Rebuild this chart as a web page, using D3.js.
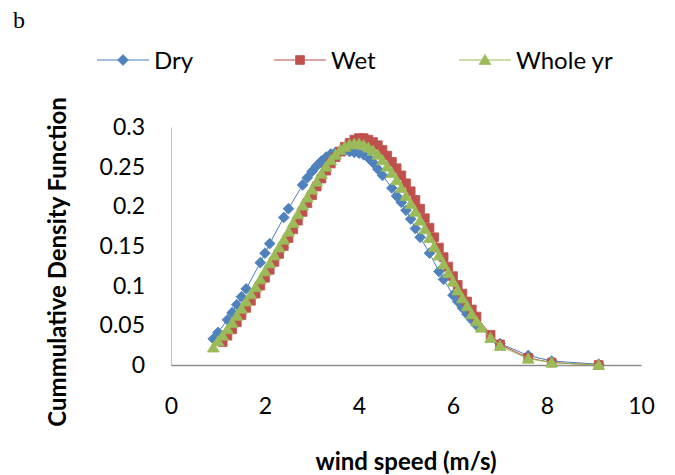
<!DOCTYPE html>
<html>
<head>
<meta charset="utf-8">
<script src="https://cdn.jsdelivr.net/npm/d3@7/dist/d3.min.js"></script>
<style>
  html, body { margin: 0; padding: 0; background: #fff; }
  svg { display: block; }
  text { font-family: Lato, "Open Sans", sans-serif; fill: #000; }
</style>
</head>
<body>
<svg id="chart" width="675" height="475"></svg>
<script>
// Wind speed (m/s) and density values per season
const dryX = [0.9,1.0,1.2,1.3,1.4,1.5,1.6,1.9,2.0,2.1,2.4,2.5,2.8,2.9,3.0,3.1,3.2,3.3,3.4,3.5,3.6,3.7,3.8,3.9,4.0,4.1,4.2,4.3,4.4,4.5,4.7,4.8,4.9,5.0,5.1,5.2,5.3,5.5,5.7,5.8,6.0,6.1,6.2,6.3,6.4,6.5,7.0,7.6,8.1,9.1];
const dryY = [0.033,0.041,0.057,0.066,0.076,0.086,0.096,0.129,0.141,0.153,0.186,0.197,0.227,0.236,0.244,0.251,0.257,0.262,0.266,0.268,0.269,0.270,0.269,0.268,0.267,0.265,0.261,0.255,0.247,0.239,0.223,0.213,0.205,0.195,0.184,0.172,0.161,0.141,0.118,0.108,0.088,0.080,0.072,0.064,0.057,0.050,0.027,0.012,0.005,0.001];

const wetX = [1.1,1.2,1.3,1.4,1.5,1.6,1.7,1.8,1.9,2.0,2.1,2.2,2.3,2.4,2.5,2.6,2.7,2.8,2.9,3.0,3.1,3.2,3.3,3.4,3.5,3.6,3.7,3.8,3.9,4.0,4.1,4.2,4.3,4.4,4.5,4.6,4.7,4.8,4.9,5.0,5.1,5.2,5.3,5.4,5.5,5.6,5.7,5.8,5.9,6.0,6.1,6.2,6.3,6.4,6.5,6.8,7.0,7.6,8.1,9.1];
const wetY = [0.029,0.037,0.045,0.054,0.063,0.072,0.081,0.090,0.100,0.110,0.120,0.130,0.140,0.150,0.160,0.171,0.182,0.193,0.204,0.214,0.225,0.235,0.245,0.254,0.262,0.269,0.275,0.280,0.284,0.286,0.286,0.284,0.281,0.277,0.271,0.264,0.256,0.248,0.239,0.229,0.219,0.208,0.197,0.185,0.173,0.161,0.148,0.136,0.124,0.112,0.101,0.090,0.080,0.070,0.061,0.038,0.026,0.009,0.003,0.000];

const wholeX = [0.9,1.0,1.1,1.2,1.3,1.4,1.5,1.6,1.7,1.8,1.9,2.0,2.1,2.2,2.3,2.4,2.5,2.6,2.7,2.8,2.9,3.0,3.1,3.2,3.3,3.4,3.5,3.6,3.7,3.8,3.9,4.0,4.1,4.2,4.3,4.4,4.5,4.6,4.7,4.8,4.9,5.0,5.1,5.2,5.3,5.4,5.5,5.6,5.7,5.8,5.9,6.0,6.1,6.2,6.3,6.4,6.5,6.6,6.8,7.0,7.6,8.1,9.1];
const wholeY = [0.022,0.030,0.037,0.045,0.053,0.062,0.071,0.080,0.089,0.098,0.108,0.118,0.128,0.138,0.148,0.158,0.168,0.179,0.190,0.201,0.211,0.221,0.231,0.241,0.250,0.258,0.265,0.271,0.275,0.278,0.279,0.279,0.277,0.274,0.270,0.265,0.258,0.250,0.242,0.233,0.223,0.213,0.203,0.193,0.182,0.171,0.160,0.149,0.138,0.127,0.116,0.105,0.094,0.084,0.074,0.064,0.055,0.047,0.034,0.024,0.008,0.003,0.000];

const seriesNames = ["Dry", "Wet", "Whole yr"];
const xTicks = [0, 2, 4, 6, 8, 10];
const yTicks = [0, 0.05, 0.1, 0.15, 0.2, 0.25, 0.3];
const yTickLabels = ["0", "0.05", "0.1", "0.15", "0.2", "0.25", "0.3"];

const svg = d3.select("#chart");

const x = d3.scaleLinear().domain([0, 10]).range([171, 641]);
const y = d3.scaleLinear().domain([0, 0.3]).range([365, 127]);

// Marker shapes
const diamond = s => `M0,${-s}L${s},0L0,${s}L${-s},0Z`;
const square = s => `M${-s},${-s}H${s}V${s}H${-s}Z`;
const triangle = s => `M0,${-s}L${s * 1.05},${s * 0.8}L${-s * 1.05},${s * 0.8}Z`;

const series = [
  { name: seriesNames[0], xs: dryX, ys: dryY, line: "#4A7EBB", fill: "#4F81BD", shape: () => diamond(5.4) },
  { name: seriesNames[1], xs: wetX, ys: wetY, line: "#BE4B48", fill: "#C0504D", shape: () => square(4.4) },
  { name: seriesNames[2], xs: wholeX, ys: wholeY, line: "#98B954", fill: "#9BBB59", shape: () => triangle(5.6) }
];

// Axes
const yAxis = d3.axisLeft(y).tickValues(yTicks).tickSize(0).tickPadding(26)
  .tickFormat((d, i) => yTickLabels[i]);
const gy = svg.append("g").attr("transform", "translate(171,0)").call(yAxis);
gy.select(".domain").attr("stroke", "#c4c4c4").attr("stroke-width", 1);
gy.selectAll(".tick text").style("font-size", "23px").attr("font-family", "Lato");

const xAxis = d3.axisBottom(x).tickValues(xTicks).tickSize(0).tickPadding(33)
  .tickFormat(d3.format("d"));
const gx = svg.append("g").attr("transform", "translate(0,365)").call(xAxis);
gx.select(".domain").attr("stroke", "#8c8c8c").attr("stroke-width", 1.6);
gx.selectAll(".tick text").style("font-size", "23px").attr("font-family", "Lato");

// Series lines and markers
const line = d3.line().x(d => x(d[0])).y(d => y(d[1]));
series.forEach(s => {
  const pts = s.xs.map((v, i) => [v, s.ys[i]]);
  const g = svg.append("g");
  g.append("path").datum(pts).attr("d", line)
    .attr("fill", "none").attr("stroke", s.line).attr("stroke-width", 1);
  g.selectAll("path.m").data(pts).enter().append("path")
    .attr("class", "m")
    .attr("d", s.shape())
    .attr("transform", d => `translate(${x(d[0])},${y(d[1])})`)
    .attr("fill", s.fill).attr("stroke", s.fill).attr("stroke-width", 0.8);
});

// Legend
const legendX = [97, 274, 459];
series.forEach((s, i) => {
  const g = svg.append("g").attr("transform", `translate(${legendX[i]},60)`);
  g.append("line").attr("x1", 0).attr("x2", 52).attr("y1", 0).attr("y2", 0)
    .attr("stroke", s.line).attr("stroke-width", 1.2);
  g.append("path").attr("d", s.shape()).attr("transform", "translate(26,0)")
    .attr("fill", s.fill).attr("stroke", s.fill).attr("stroke-width", 0.8);
  g.append("text").attr("x", 57).attr("y", 0).attr("dy", "0.36em")
    .style("font-size", "24px").text(s.name);
});

// Panel letter
svg.append("text").attr("x", 13).attr("y", 28)
  .style("font-family", "'Liberation Serif', 'DejaVu Serif', serif")
  .style("font-size", "24px").text("b");

// Axis titles
svg.append("text").attr("x", 406).attr("y", 461).attr("dy", "0.36em")
  .attr("text-anchor", "middle").style("font-size", "24px").style("font-weight", "bold")
  .text("wind speed (m/s)");
svg.append("text").attr("transform", "translate(57,262) rotate(-90)").attr("dy", "0.36em")
  .attr("text-anchor", "middle").style("font-size", "24px").style("font-weight", "bold")
  .text("Cummulative Density Function");
</script>
</body>
</html>
